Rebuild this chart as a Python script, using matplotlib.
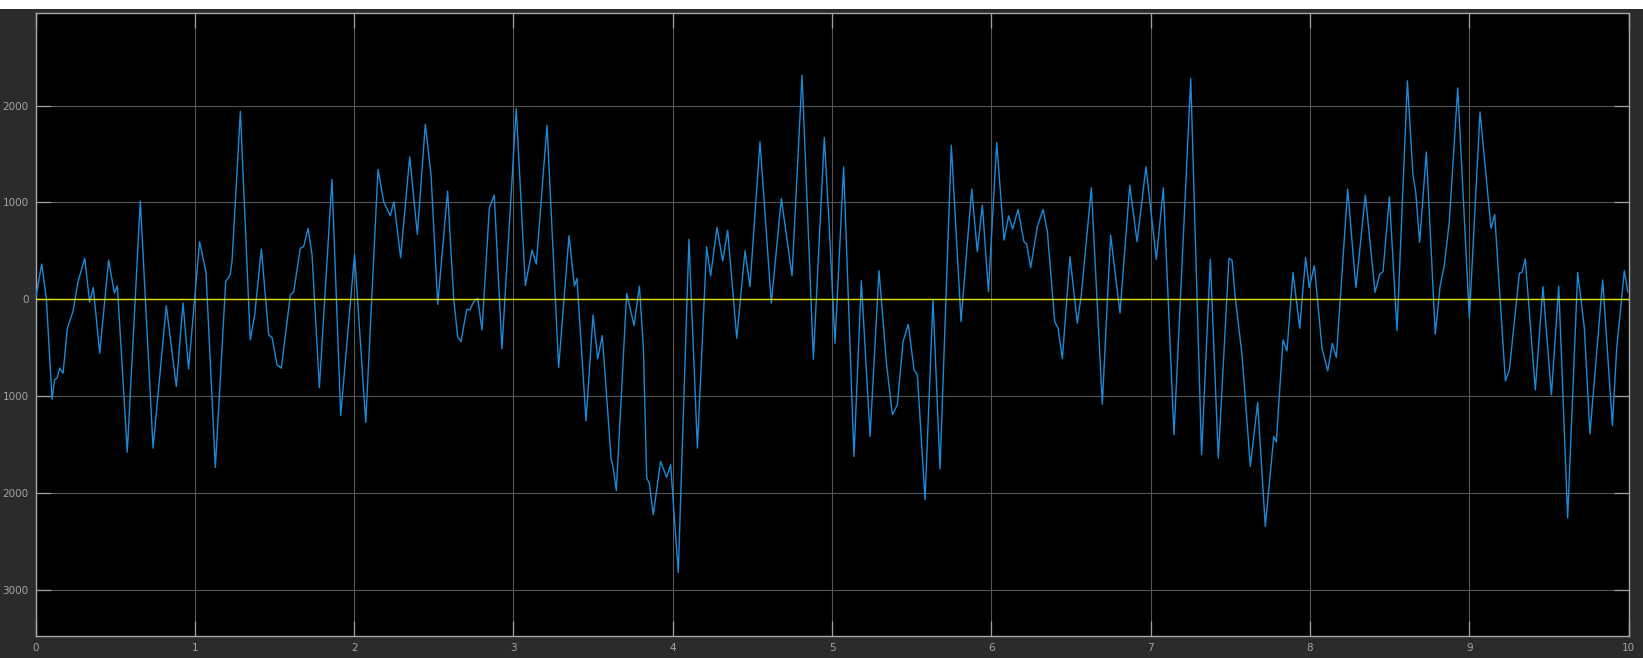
import matplotlib
matplotlib.use("Agg")
import matplotlib.pyplot as plt
from matplotlib.patches import Rectangle

# Scope trace: simulation time (s) and signal value
time_s = [
    0.000, 0.039, 0.068, 0.104, 0.120, 0.135, 0.152, 0.173, 0.200, 0.235,
    0.267, 0.309, 0.340, 0.363, 0.403, 0.459, 0.495, 0.514, 0.576, 0.658,
    0.738, 0.821, 0.884, 0.926, 0.961, 1.030, 1.070, 1.129, 1.194, 1.223,
    1.234, 1.286, 1.348, 1.376, 1.418, 1.464, 1.485, 1.516, 1.543, 1.600,
    1.621, 1.662, 1.683, 1.711, 1.736, 1.782, 1.861, 1.916, 2.003, 2.073,
    2.150, 2.186, 2.227, 2.250, 2.292, 2.349, 2.397, 2.447, 2.483, 2.525,
    2.587, 2.625, 2.650, 2.671, 2.707, 2.727, 2.751, 2.776, 2.803, 2.849,
    2.880, 2.928, 3.018, 3.075, 3.117, 3.144, 3.211, 3.284, 3.349, 3.383,
    3.399, 3.456, 3.500, 3.529, 3.558, 3.613, 3.627, 3.646, 3.711, 3.757,
    3.791, 3.816, 3.837, 3.853, 3.878, 3.924, 3.962, 3.987, 4.035, 4.102,
    4.155, 4.213, 4.238, 4.278, 4.314, 4.345, 4.402, 4.454, 4.485, 4.548,
    4.619, 4.682, 4.749, 4.812, 4.883, 4.952, 4.981, 5.019, 5.073, 5.138,
    5.184, 5.239, 5.295, 5.341, 5.379, 5.410, 5.446, 5.479, 5.515, 5.536,
    5.584, 5.634, 5.678, 5.749, 5.810, 5.877, 5.912, 5.944, 5.982, 6.034,
    6.080, 6.109, 6.134, 6.168, 6.205, 6.222, 6.247, 6.289, 6.325, 6.352,
    6.398, 6.419, 6.446, 6.494, 6.540, 6.565, 6.628, 6.697, 6.749, 6.808,
    6.869, 6.915, 6.971, 7.036, 7.080, 7.147, 7.252, 7.320, 7.375, 7.425,
    7.492, 7.511, 7.532, 7.574, 7.626, 7.672, 7.720, 7.773, 7.789, 7.831,
    7.856, 7.894, 7.936, 7.973, 7.996, 8.028, 8.076, 8.112, 8.141, 8.166,
    8.237, 8.289, 8.348, 8.409, 8.438, 8.459, 8.499, 8.547, 8.612, 8.647,
    8.664, 8.689, 8.731, 8.787, 8.817, 8.844, 8.875, 8.928, 9.001, 9.068,
    9.137, 9.160, 9.227, 9.252, 9.315, 9.331, 9.352, 9.415, 9.463, 9.516,
    9.562, 9.618, 9.681, 9.723, 9.758, 9.838, 9.899, 9.926, 9.974, 9.995,
]
signal = [
    0, 364, 10, -1031, -831, -814, -711, -763, -299, -127,
    182, 423, -31, 120, -557, 405, 65, 137, -1577, 1014,
    -1536, -65, -900, -38, -718, 594, 285, -1735, 182, 258,
    400, 1941, -419, -161, 519, -368, -395, -677, -711, 45,
    79, 526, 543, 732, 457, -911, 1237, -1199, 467, -1271,
    1340, 1007, 862, 1007, 429, 1471, 670, 1807, 1282, -52,
    1117, 10, -385, -436, -103, -110, -24, 10, -316, 945,
    1075, -512, 1969, 141, 509, 364, 1797, -704, 656, 137,
    216, -1254, -161, -615, -375, -1639, -1742, -1976, 62, -271,
    137, -505, -1845, -1897, -2223, -1673, -1838, -1708, -2820, 618,
    -1536, 543, 241, 742, 395, 711, -402, 502, 131, 1625,
    -41, 1041, 244, 2312, -618, 1670, 801, -454, 1368, -1622,
    192, -1416, 296, -643, -1192, -1089, -436, -258, -728, -780,
    -2068, -7, -1752, 1591, -230, 1137, 491, 972, 79, 1618,
    612, 862, 725, 928, 594, 570, 326, 749, 928, 698,
    -230, -299, -615, 440, -247, 45, 1151, -1082, 663, -144,
    1179, 594, 1368, 412, 1151, -1398, 2278, -1605, 412, -1639,
    423, 405, 10, -574, -1725, -1065, -2343, -1416, -1474, -419,
    -533, 278, -299, 430, 120, 347, -505, -739, -454, -601,
    1137, 120, 1075, 72, 258, 285, 1058, -323, 2254, 1282,
    1110, 588, 1520, -361, 131, 354, 801, 2182, -196, 1934,
    732, 876, -842, -728, 268, 278, 416, -935, 131, -986,
    137, -2257, 278, -299, -1388, 199, -1302, -505, 296, 79,
]
reference_level = 0

x_ticks = [0, 1, 2, 3, 4, 5, 6, 7, 8, 9, 10]
x_tick_labels = ["0", "1", "2", "3", "4", "5", "6", "7", "8", "9", "10"]
y_ticks = [-3000, -2000, -1000, 0, 1000, 2000]
y_tick_labels = ["3000", "2000", "1000", "0", "1000", "2000"]

W, H = 1643, 658
fig = plt.figure(figsize=(W / 100, H / 100), dpi=100, facecolor="#2b2b2b")

# white strip along the top of the window
fig.patches.append(Rectangle((0, 1 - 9 / H), 1, 9 / H, transform=fig.transFigure,
                             facecolor="white", edgecolor="none", zorder=0))

left, right = 35.5 / W, 1628.5 / W
top, bottom = 1 - 13 / H, 1 - 635.7 / H
ax = fig.add_axes([left, bottom, right - left, top - bottom], facecolor="black")

ax.plot(time_s, signal, color="#1a8ad8", lw=1.0, zorder=3)
ax.axhline(reference_level, color="#e2e200", lw=1.0, zorder=4)

ax.set_xlim(0, 10)
ax.set_ylim(-3472, 2955)
ax.set_xticks(x_ticks)
ax.set_xticklabels(x_tick_labels)
ax.set_yticks(y_ticks)
ax.set_yticklabels(y_tick_labels)

ax.grid(True, color="#555555", lw=0.8, zorder=1)
ax.set_axisbelow(True)
ax.tick_params(direction="in", length=11, width=0.9, color="#a0a0a0",
               top=True, right=True, labelcolor="#a3a3a3", labelsize=7.5)
ax.tick_params(axis="y", pad=5)
ax.tick_params(axis="x", pad=5)
for side in ("left", "right", "top", "bottom"):
    ax.spines[side].set_color("#a8a8a8")
    ax.spines[side].set_linewidth(1.0)

fig.savefig("out.png", dpi=100, facecolor=fig.get_facecolor())
